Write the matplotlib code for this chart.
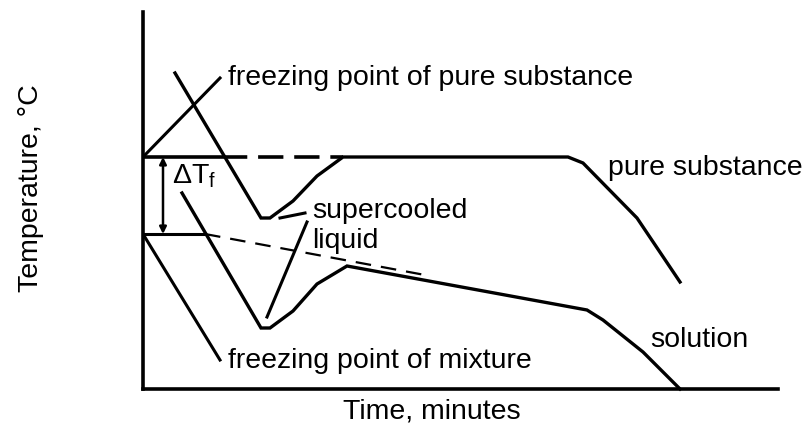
"""
Cooling curves: pure substance vs solution, freezing point depression.
"""
import matplotlib
matplotlib.use("Agg")
import matplotlib.pyplot as plt

plt.rcParams['font.family'] = ['Liberation Sans', 'DejaVu Sans']
plt.rcParams['mathtext.fontset'] = 'custom'
plt.rcParams['mathtext.rm'] = 'Liberation Sans'
plt.rcParams['mathtext.it'] = 'Liberation Sans'

# cooling curve of the pure substance (time, temperature), arbitrary units
pure_t = [32, 118, 127, 150, 174, 200, 425, 440, 494, 537]
pure_T = [316, 171, 171, 188, 213, 232, 232, 226, 171, 107]

# cooling curve of the solution
sol_t = [39, 118, 127, 150, 174, 204, 444, 460, 500, 537]
sol_T = [196, 61, 61, 78, 105, 123, 79, 69, 37, 0]

# freezing points
fp_pure = 232
fp_mix = 155
pure_solid_t = [0, 79]
pure_dash_t = [79, 200]
mix_solid_t = [0, 62]
mix_dash_t = [62, 282]
mix_dash_T = [155, 114]

# leader lines for the labels
lead_pure_t, lead_pure_T = [0, 77], [232, 311]
lead_mix_t, lead_mix_T = [0, 77], [155, 29]
lead_sc1_t, lead_sc1_T = [137, 162], [171, 176]
lead_sc2_t, lead_sc2_T = [124, 164], [72, 167]

arrow_t = 20

fig = plt.figure(figsize=(8.09, 4.23), dpi=100)
ax = fig.add_axes([143 / 809, 34 / 423, 635 / 809, 377 / 423])
ax.set_xlim(0, 635)
ax.set_ylim(0, 377)
ax.set_xticks([])
ax.set_yticks([])
for s in ['top', 'right']:
    ax.spines[s].set_visible(False)
for s in ['left', 'bottom']:
    ax.spines[s].set_linewidth(2.6)

lw = 2.4
ax.plot(pure_t, pure_T, color='black', lw=lw, solid_joinstyle='miter', clip_on=False)
ax.plot(sol_t, sol_T, color='black', lw=lw, solid_joinstyle='miter', clip_on=False)

ax.plot(pure_solid_t, [fp_pure, fp_pure], color='black', lw=2.6, solid_capstyle='butt')
ax.plot(pure_dash_t, [fp_pure, fp_pure], color='black', lw=2.6, dashes=(7, 3))
ax.plot(mix_solid_t, [fp_mix, fp_mix], color='black', lw=2.2, solid_capstyle='butt')
ax.plot(mix_dash_t, mix_dash_T, color='black', lw=1.6, dashes=(7, 4.5))

for tt, TT in [(lead_pure_t, lead_pure_T), (lead_mix_t, lead_mix_T),
               (lead_sc1_t, lead_sc1_T), (lead_sc2_t, lead_sc2_T)]:
    ax.plot(tt, TT, color='black', lw=2.2)

ax.annotate('', xy=(arrow_t, fp_pure), xytext=(arrow_t, fp_mix),
            arrowprops=dict(arrowstyle='<|-|>', color='black', lw=1.8,
                            mutation_scale=10, shrinkA=0, shrinkB=0))

fs = 20.5
ax.text(85, 304, 'freezing point of pure substance', fontsize=fs, va='baseline')
ax.text(29, 206, r'$\mathregular{\Delta T_f}$', fontsize=fs, va='baseline')
ax.text(169, 171, 'supercooled', fontsize=fs, va='baseline')
ax.text(169, 141, 'liquid', fontsize=fs, va='baseline')
ax.text(465, 214, 'pure substance', fontsize=fs, va='baseline', clip_on=False)
ax.text(507, 42, 'solution', fontsize=fs, va='baseline')
ax.text(85, 21, 'freezing point of mixture', fontsize=fs, va='baseline')

ax.text(200, -29, 'Time, minutes', fontsize=fs, va='baseline', clip_on=False)
ax.text(-112, 201, 'Temperature, °C', fontsize=fs, rotation=90,
        ha='center', va='center', clip_on=False)

fig.savefig('out.png', dpi=100)
